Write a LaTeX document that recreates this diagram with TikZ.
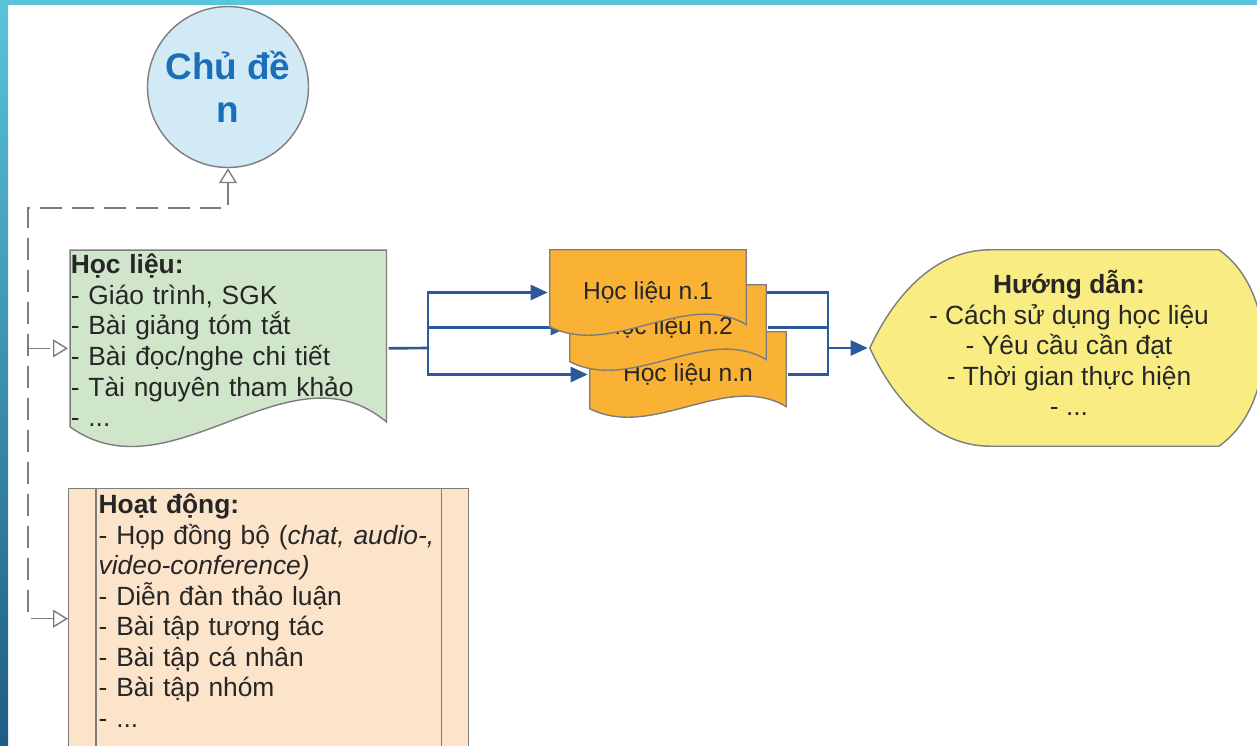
\documentclass[tikz,border=0pt]{standalone}
\usepackage{fontspec}
\setmainfont{Liberation Sans}
\usetikzlibrary{calc,arrows.meta}
\definecolor{bandtop}{RGB}{90,196,218}
\definecolor{banddark}{RGB}{30,92,134}
\definecolor{topicfill}{RGB}{210,234,246}
\definecolor{topictext}{RGB}{26,112,184}
\definecolor{docgreen}{RGB}{208,230,203}
\definecolor{liborange}{RGB}{250,178,52}
\definecolor{guideyellow}{RGB}{248,236,130}
\definecolor{actpeach}{RGB}{252,228,203}
\definecolor{flowblue}{RGB}{44,88,156}
\definecolor{edgegray}{RGB}{125,125,125}
\pgfdeclarelayer{back}
\pgfsetlayers{back,main}

\begin{document}
\begin{tikzpicture}[x=0.02cm, y=-0.02cm,
        every node/.style={font=\fontsize{15}{17.4}\selectfont, text=black!85, inner sep=0pt},
        outline/.style={draw=edgegray, line width=0.8pt},
        wavedoc/.style={path picture={
            \draw[outline, fill=#1] let \p1=([xshift=1pt,yshift=-1pt]path picture bounding box.north west),
                \p2=([xshift=-1pt,yshift=1pt]path picture bounding box.south east),
                \n1={\x2-\x1}, \n2={\y1-\y2} in
                (\x1,\y1) -- (\x2,\y1) -- (\x2,{\y2+0.125*\n2})
                .. controls ({\x2-0.306*\n1},{\y2+0.54*\n2}) and ({\x2-0.68*\n1},{\y2-0.27*\n2}) .. (\x1,{\y2+0.1*\n2})
                -- cycle;}},
        display/.style={path picture={
            \draw[outline, fill=#1] let \p1=([xshift=1pt,yshift=-1pt]path picture bounding box.north west),
                \p2=([xshift=-1pt,yshift=1pt]path picture bounding box.south east),
                \n1={\x2-\x1}, \n2={\y1-\y2}, \n3={0.5*(\y1+\y2)} in
                (\x1,\n3) .. controls ({\x1+0.055*\n1},{\y1-0.26*\n2}) and ({\x1+0.154*\n1},\y1) .. ({\x1+0.303*\n1},\y1)
                -- ({\x2-0.124*\n1},\y1)
                .. controls ({\x2+0.025*\n1},{\y1-0.21*\n2}) and ({\x2+0.025*\n1},{\y1-0.79*\n2}) .. ({\x2-0.124*\n1},\y2)
                -- ({\x1+0.303*\n1},\y2)
                .. controls ({\x1+0.154*\n1},\y2) and ({\x1+0.055*\n1},{\y2+0.26*\n2}) .. (\x1,\n3)
                -- cycle;}},
        libdoc/.style={wavedoc=liborange, minimum width=4cm, minimum height=1.78cm,
            font=\fontsize{14}{16}\selectfont},
        flow/.style={draw=flowblue, line width=1.5pt},
        flowtip/.style={-{Triangle[length=0.34cm,width=0.3cm]}},
        dep/.style={draw=edgegray, line width=0.8pt, dash pattern=on 12.5pt off 5.7pt},
        deptip/.style={-{Triangle[open,length=0.3cm,width=0.36cm]}}]
    \useasboundingbox (0,0) rectangle (1257,745);

    \node[circle, outline, fill=topicfill, minimum size=3.22cm, align=center,
        font=\fontsize{21}{24.5}\selectfont\bfseries, text=topictext] (topic) at (228,87) {Chủ đề\\n};

    \node[wavedoc=docgreen, minimum width=6.4cm, minimum height=4cm, text width=6.3cm,
        align=left, text depth=96pt, anchor=north west] (doc) at (68,248)
        {\textbf{Học liệu:}\\- Giáo trình, SGK\\- Bài giảng tóm tắt\\- Bài đọc/nghe chi tiết\\- Tài nguyên tham khảo\\- ...};

    \node[libdoc] (lib3) at (688,374.5) {Học liệu n.n};
    \node[libdoc] (lib2) at (668,327.5) {Học liệu n.2};
    \node[libdoc] (lib1) at (648,292.5) {Học liệu n.1};

    \node[display=guideyellow, minimum width=8.04cm, minimum height=4cm, align=center,
        text depth=5.5pt] (guide) at (1069,348)
        {\textbf{Hướng dẫn:}\\- Cách sử dụng học liệu\\- Yêu cầu cần đạt\\- Thời gian thực hiện\\- ...};

    \node[outline, fill=actpeach, minimum width=8cm, minimum height=5.2cm, text width=6.8cm,
        align=left, text depth=131pt, anchor=north west] (act) at (68,488)
        {\textbf{Hoạt động:}\\- Họp đồng bộ (\textit{chat, audio-,}\\\textit{video-conference)}\\- Diễn đàn thảo luận\\- Bài tập tương tác\\- Bài tập cá nhân\\- Bài tập nhóm\\- ...};
    \draw[outline] ([xshift=0.56cm]act.north west) -- ([xshift=0.56cm]act.south west);
    \draw[outline] ([xshift=-0.56cm]act.north east) -- ([xshift=-0.56cm]act.south east);

    \coordinate (bend) at (28,208);
    \coordinate (split) at (428,348);
    \coordinate (merge) at (828,348);

    \begin{pgfonlayer}{back}
        \fill[white] (0,0) rectangle (1257,745);
        \fill[bandtop] (0,0) rectangle (1257,5);
        \shade[top color=bandtop, bottom color=banddark] (0,0) rectangle (8,745);

        \draw[dep, {Triangle[open,length=0.3cm,width=0.36cm]}-{Triangle[open,length=0.3cm,width=0.36cm]}]
            (act.west) -| (bend) -| (topic.south);
        \draw[dep, deptip] (bend |- doc.west) -- (doc.west);

        \draw[flow] (doc.east) -- (split);
        \foreach \i in {1,2,3}
            \draw[flow, flowtip] (split) |- (lib\i.west);
        \foreach \i in {1,2,3}
            \draw[flow] (lib\i.east) -| (merge);
        \draw[flow, flowtip] (merge) -- (guide.west);
    \end{pgfonlayer}
\end{tikzpicture}
\end{document}
